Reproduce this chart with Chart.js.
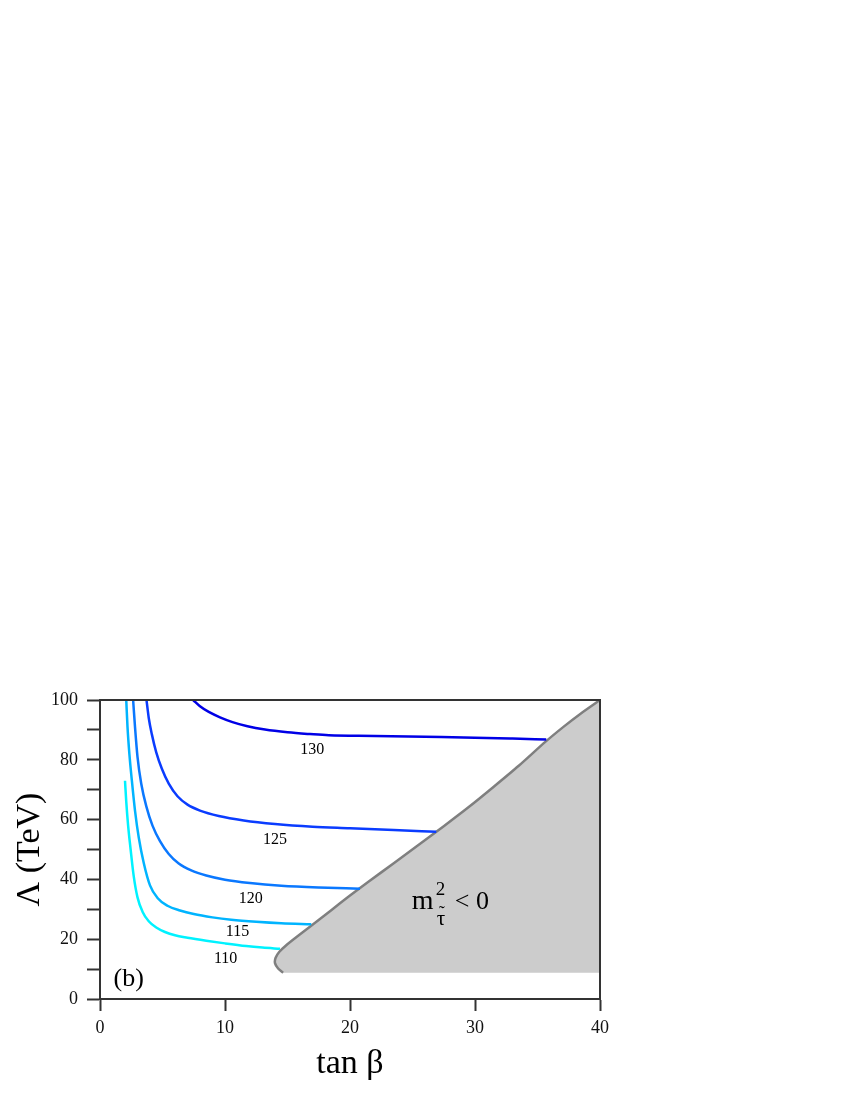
<!DOCTYPE html>
<html>
<head>
<meta charset="utf-8">
<script src="https://cdn.jsdelivr.net/npm/chart.js@4/dist/chart.umd.min.js"></script>
<style>
  html, body { margin: 0; padding: 0; background: #fff; }
  canvas { display: block; }
</style>
</head>
<body>
<canvas id="chart" width="850" height="1100"></canvas>
<script>
// contour lines of m_h (GeV) in the tan(beta) - Lambda plane
const curve110X = [2.0, 2.1, 2.25, 2.45, 2.7, 3.0, 3.4, 3.9, 4.5, 5.2, 6.0, 7.0, 8.5, 10.0, 11.7, 13.0, 14.4];
const curve110Y = [73, 66, 58, 50, 41, 34, 29.2, 26, 23.9, 22.4, 21.3, 20.5, 19.5, 18.6, 17.7, 17.2, 16.8];

const curve115X = [2.1, 2.2, 2.35, 2.55, 2.8, 3.1, 3.5, 4.0, 4.6, 5.4, 6.4, 7.5, 9.0, 10.5, 12.5, 14.5, 16.9];
const curve115Y = [100, 91, 82, 73, 63, 54, 45.5, 38, 33.8, 31.2, 29.6, 28.4, 27.3, 26.5, 25.8, 25.3, 25.0];

const curve120X = [2.65, 2.8, 3.0, 3.3, 3.7, 4.2, 4.8, 5.5, 6.3, 7.3, 8.5, 10, 12, 14.5, 17.5, 20.8];
const curve120Y = [100, 91, 81, 72, 64.5, 58, 52.8, 48.5, 45.3, 43, 41.3, 39.9, 38.8, 37.9, 37.3, 36.9];

const curve125X = [3.72, 3.9, 4.15, 4.5, 4.95, 5.5, 6.2, 7.0, 8.0, 9.5, 11.5, 14, 17, 20, 23.5, 26.9];
const curve125Y = [100, 94, 88.5, 82.5, 77, 72, 67.8, 65, 63, 61.2, 59.7, 58.5, 57.6, 57.1, 56.5, 55.9];

const curve130X = [7.45, 8.0, 8.7, 9.6, 10.6, 11.8, 13.2, 15.0, 16.8, 18.3, 22, 26, 30, 33, 35.7];
const curve130Y = [100, 97.9, 96, 94.2, 92.6, 91.2, 90.1, 89.2, 88.6, 88.2, 88.0, 87.7, 87.4, 87.1, 86.8];

// edge of the excluded region (stau mass squared < 0)
const boundaryX = [14.65, 14.25, 14.0, 14.05, 14.35, 14.9, 15.8, 17.0, 18.5, 20.0, 21.5, 23.5, 25.5, 27.5, 29.5, 31.5, 33.5, 35.6, 37.1, 38.5, 40];
const boundaryY = [8.8, 10.2, 12.0, 13.8, 15.8, 18.0, 21.0, 24.8, 29.7, 34.6, 39.3, 45.4, 51.6, 57.8, 64.2, 71.0, 78.0, 85.9, 91.1, 95.6, 100];
const regionFloor = 8.8;

const contourLabels = ['110', '115', '120', '125', '130'];
const labelX = [10.05, 11.0, 12.05, 14.0, 16.97];
const labelY = [13.4, 22.6, 33.4, 53.4, 83.4];

const xTickLabels = ['0', '10', '20', '30', '40'];
const yTickLabels = ['0', '20', '40', '60', '80', '100'];

const curveColors = ['#00f2ff', '#00b4ff', '#0a78ff', '#0a3cff', '#0000e6'];
const serif = '"Liberation Serif", "Times New Roman", serif';

const toPoints = (xs, ys) => xs.map((v, i) => ({ x: v, y: ys[i] }));

const curves = [
  toPoints(curve110X, curve110Y),
  toPoints(curve115X, curve115Y),
  toPoints(curve120X, curve120Y),
  toPoints(curve125X, curve125Y),
  toPoints(curve130X, curve130Y)
];

const datasets = curves.map((pts, i) => ({
  label: contourLabels[i],
  data: pts,
  showLine: true,
  borderColor: curveColors[i],
  borderWidth: 2.5,
  pointRadius: 0,
  cubicInterpolationMode: 'monotone',
  fill: false
}));

// outline of the shaded region
datasets.push({
  label: 'edge',
  data: toPoints(boundaryX, boundaryY),
  showLine: true,
  borderColor: '#7f7f7f',
  borderWidth: 2.5,
  pointRadius: 0,
  tension: 0.2,
  fill: false
});

// the shaded region itself, closed along the floor
datasets.push({
  label: 'region',
  data: toPoints(boundaryX, boundaryY).concat([{ x: boundaryX[boundaryX.length - 1], y: regionFloor }]),
  showLine: true,
  borderWidth: 0,
  borderColor: 'rgba(0,0,0,0)',
  backgroundColor: '#cccccc',
  pointRadius: 0,
  tension: 0,
  fill: 'shape'
});

const annotate = {
  id: 'annotate',
  afterDatasetsDraw(chart) {
    const { ctx, chartArea: a, scales: { x, y } } = chart;
    ctx.save();
    ctx.fillStyle = '#000';
    ctx.textAlign = 'center';
    ctx.textBaseline = 'middle';
    ctx.font = '16px ' + serif;
    contourLabels.forEach((t, i) => {
      ctx.fillText(t, x.getPixelForValue(labelX[i]), y.getPixelForValue(labelY[i]));
    });
    ctx.font = '26px ' + serif;
    ctx.fillText('(b)', x.getPixelForValue(2.3), y.getPixelForValue(6.6));

    // m^2_stau < 0
    const rx = x.getPixelForValue(24.94);
    const ry = y.getPixelForValue(30.1);
    ctx.textAlign = 'left';
    ctx.textBaseline = 'alphabetic';
    ctx.font = '28px ' + serif;
    ctx.fillText('m', rx, ry);
    ctx.font = '26px ' + serif;
    ctx.fillText('< 0', rx + 43, ry);
    ctx.font = '19px ' + serif;
    ctx.fillText('2', rx + 24, ry - 14);
    ctx.font = '21px ' + serif;
    ctx.fillText('\u03C4', rx + 25, ry + 16);
    ctx.textAlign = 'center';
    ctx.font = '18px ' + serif;
    ctx.fillText('\u02DC', rx + 30, ry + 10);

    ctx.strokeStyle = '#333';
    ctx.lineWidth = 2;
    ctx.strokeRect(a.left, a.top, a.right - a.left, a.bottom - a.top);
    ctx.restore();
  }
};

new Chart(document.getElementById('chart'), {
  type: 'scatter',
  data: { datasets },
  options: {
    responsive: false,
    animation: false,
    devicePixelRatio: 1,
    layout: { padding: { left: 0, right: 250, top: 700, bottom: 1 } },
    plugins: { legend: { display: false }, tooltip: { enabled: false } },
    scales: {
      x: {
        type: 'linear',
        min: 0,
        max: 40,
        afterFit: s => { s.height = 100; },
        border: { display: true, color: '#333', width: 2 },
        grid: { drawOnChartArea: false, drawTicks: true, tickLength: 12, tickWidth: 2, color: '#333' },
        ticks: {
          stepSize: 10,
          padding: 6,
          color: '#111',
          font: { family: serif, size: 18 },
          callback: v => xTickLabels.includes(String(v)) ? String(v) : ''
        },
        title: {
          display: true,
          text: 'tan \u03B2',
          color: '#000',
          font: { family: serif, size: 34 },
          padding: { top: 0, bottom: 15 }
        }
      },
      y: {
        type: 'linear',
        min: 0,
        max: 100,
        afterFit: s => { s.width = 100; },
        border: { display: true, color: '#333', width: 2 },
        grid: { drawOnChartArea: false, drawTicks: true, tickLength: 13, tickWidth: 2, color: '#333' },
        ticks: {
          stepSize: 10,
          padding: 9,
          color: '#111',
          font: { family: serif, size: 18 },
          callback: v => yTickLabels.includes(String(v)) ? String(v) : ''
        },
        title: {
          display: true,
          text: '\u039B (TeV)',
          color: '#000',
          font: { family: serif, size: 34 },
          padding: { top: 10, bottom: 0 }
        }
      }
    }
  },
  plugins: [annotate]
});
</script>
</body>
</html>
